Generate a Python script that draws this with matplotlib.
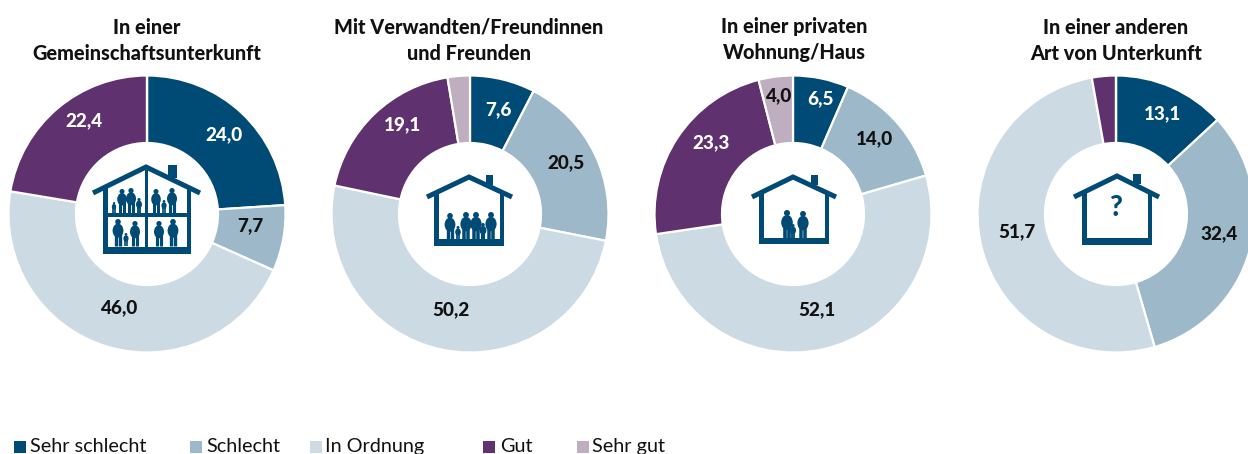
import matplotlib
matplotlib.use("Agg")
import matplotlib.pyplot as plt
from matplotlib.patches import Rectangle, Circle, Ellipse

W, H = 1248, 454
FONT = "Lato"
BOLD = 900
LEGEND_FONT = "Lato"
categories = ["Sehr schlecht", "Schlecht", "In Ordnung", "Gut", "Sehr gut"]
titles = ["In einer\nGemeinschaftsunterkunft", "Mit Verwandten/Freundinnen\nund Freunden",
          "In einer privaten\nWohnung/Haus", "In einer anderen\nArt von Unterkunft"]
values_gemeinschaft = [24.0, 7.7, 46.0, 22.4, 0.0]
values_verwandte = [7.6, 20.5, 50.2, 19.1, 2.6]
values_privat = [6.5, 14.0, 52.1, 23.3, 4.0]
values_andere = [13.1, 32.4, 51.7, 2.8, 0.0]
all_values = [values_gemeinschaft, values_verwandte, values_privat, values_andere]

colors = ["#004B76", "#9DB8C8", "#CCDAE3", "#5F316E", "#BFAEBF"]
text_colors = ["white", "#111111", "#111111", "white", "#111111"]
navy = "#004B76"
centers = [147, 470, 793, 1116]
title_x = [147, 469, 794, 1116]
CY, R, RIN = 214, 138.5, 71
# label pixel positions per chart and category (None = not labelled)
label_pos = [
    [(224, 135), (250, 226), (119, 308), (84, 121), None],
    [(498, 110), (566, 163), (451, 310), (403, 125), None],
    [(820, 99), (874, 139), (817, 310), (711, 143), (778, 96)],
    [(1163, 114), (1219, 234), (1017, 232), None, None],
]

fig = plt.figure(figsize=(W / 100, H / 100), dpi=100)
ax = fig.add_axes([0, 0, 1, 1])


def Y(y):
    return H - y


for cx, vals in zip(centers, all_values):
    ax.pie(vals, colors=colors, center=(cx, Y(CY)), radius=R, startangle=90, counterclock=False,
           wedgeprops=dict(width=R - RIN, edgecolor="white", linewidth=1.6), frame=True)
ax.set_xlim(0, W)
ax.set_ylim(0, H)
ax.set_aspect("auto")
ax.axis("off")

for vals, poss in zip(all_values, label_pos):
    for v, p, tc in zip(vals, poss, text_colors):
        if p is not None:
            ax.text(p[0], Y(p[1]), f"{v:.1f}".replace(".", ","), color=tc, ha="center", va="center",
                    fontsize=13.6, fontweight=BOLD, family=FONT)

for x, t in zip(title_x, titles):
    a, b = t.split("\n")
    ax.text(x, Y(27), a, ha="center", va="center", fontsize=14.3, fontweight=BOLD, family=FONT, color="#111111")
    ax.text(x, Y(53), b, ha="center", va="center", fontsize=14.3, fontweight=BOLD, family=FONT, color="#111111")


def px_rect(x0, y0, x1, y1, color=navy, z=5):
    ax.add_patch(Rectangle((x0, Y(y1)), x1 - x0, y1 - y0, fc=color, ec="none", zorder=z))


def house(apex, apex_y, el, er, ey, wl, wr, bottom, floor_top, cl, cr):
    t = 4.5
    roof_top = apex_y + 2
    left_slope = (ey - roof_top) / (apex - el)
    right_slope = (ey - roof_top) / (er - apex)
    wall_top_l = ey - (wl - el) * left_slope
    wall_top_r = ey - (er - wr) * right_slope
    chimney_bottom = roof_top + (cl - apex) * right_slope
    px_rect(wl, wall_top_l, wl + t, bottom)
    px_rect(wr - t, wall_top_r, wr, bottom)
    px_rect(wl, floor_top, wr, bottom)
    px_rect(cl, apex_y, cr, chimney_bottom)
    ax.plot([el, apex, er], [Y(ey), Y(roof_top), Y(ey)], color=navy, lw=3.6,
            solid_joinstyle="miter", solid_capstyle="butt", zorder=6)


def person(x, top, foot):
    h = foot - top
    w = h * 0.40
    r = h * 0.105
    ax.add_patch(Circle((x, Y(top + r)), r, fc=navy, ec="none", zorder=7))
    ax.add_patch(Ellipse((x, Y(top + h * 0.43)), w, h * 0.52, fc=navy, ec="none", zorder=7))
    for d in (-0.2, 0.2):
        ax.plot([x + d * w, x + d * w], [Y(top + h * 0.55), Y(foot)], color=navy, lw=max(h * 0.09, 1.2),
                zorder=7, solid_capstyle="butt")


# icon 1
house(146, 165, 93, 200, 193, 103, 191, 254, 247, 168, 177)
px_rect(144.5, 170, 148, 248)
px_rect(106, 213, 188, 217)
for x, t, f in [(114, 202, 213), (122, 189, 213), (131, 188, 213), (139, 198, 213), (156, 189, 213),
                (164, 200, 213), (172, 188, 213), (118, 219, 246), (126, 233, 246), (135, 221, 246),
                (159, 221, 246), (173, 219, 246)]:
    person(x, t, f)
# icon 2
house(469, 175, 427, 512, 197, 434, 504, 246, 239, 486, 493)
for x, t in [(450, 213), (458, 226), (466, 212), (476, 212), (483, 223), (491, 212)]:
    person(x, t, 240)
# icon 3
house(793, 175, 752, 836, 197, 759, 829, 244, 238, 811, 818)
for x, t in [(787, 210), (793, 224), (803, 211)]:
    person(x, t, 239)
# icon 4
house(1117, 174, 1074, 1159, 197, 1082, 1152, 245, 238, 1133, 1141)
ax.text(1115, Y(208), "?", ha="center", va="center", fontsize=20, fontweight=BOLD, family=FONT, color=navy, zorder=7)

# legend
square_x = [14, 190, 310, 483, 577]
text_x = [30, 206, 325, 500, 592]
for c, name, sx, tx in zip(colors, categories, square_x, text_x):
    px_rect(sx, 441, sx + 12, 453, color=c)
    ax.text(tx, Y(452), name, ha="left", va="baseline", fontsize=14.3, family=LEGEND_FONT, color="#111111")

fig.savefig("out.png", dpi=100)
